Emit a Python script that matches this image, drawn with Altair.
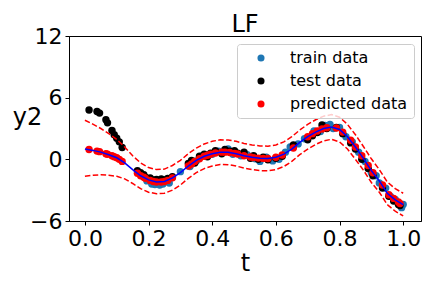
import altair as alt
import pandas as pd

# ---- data ----
curve_t = [0.0, 0.025, 0.05, 0.075, 0.1, 0.125, 0.15, 0.175, 0.2, 0.225, 0.25, 0.275, 0.3, 0.325,
           0.35, 0.375, 0.4, 0.425, 0.45, 0.475, 0.5, 0.525, 0.55, 0.575, 0.6, 0.625, 0.65, 0.675,
           0.7, 0.725, 0.75, 0.775, 0.8, 0.825, 0.85, 0.875, 0.9, 0.925, 0.95, 0.975, 1.0]
curve_y = [1.0, 0.87, 0.7, 0.45, 0.15, -0.35, -1.0, -1.6, -2.0, -2.2, -2.15, -1.8, -1.3, -0.65,
           -0.1, 0.3, 0.55, 0.7, 0.68, 0.55, 0.35, 0.2, 0.1, 0.08, 0.2, 0.5, 1.0, 1.65,
           2.2, 2.65, 3.0, 3.15, 2.9, 2.2, 1.2, 0.1, -1.1, -2.1, -3.3, -3.95, -4.4]
upper_y = [3.8, 3.42, 3.0, 2.5, 1.95, 1.2, 0.35, -0.35, -0.8, -1.0, -0.95, -0.6, -0.1, 0.55,
           1.1, 1.5, 1.75, 1.9, 1.88, 1.75, 1.55, 1.4, 1.3, 1.28, 1.4, 1.7, 2.2, 2.85,
           3.4, 3.85, 4.2, 4.35, 4.1, 3.4, 2.4, 1.25, 0.05, -1.0, -2.2, -2.85, -3.3]
lower_y = [-1.65, -1.55, -1.5, -1.55, -1.65, -1.9, -2.35, -2.85, -3.2, -3.35, -3.3, -3.0, -2.5, -1.85,
           -1.3, -0.9, -0.65, -0.5, -0.52, -0.65, -0.85, -1.0, -1.1, -1.12, -1.0, -0.7, -0.2, 0.45,
           1.0, 1.45, 1.8, 1.95, 1.7, 1.0, 0.0, -1.05, -2.25, -3.2, -4.4, -5.05, -5.5]

train_t = [0.195, 0.21, 0.22, 0.235, 0.245, 0.265, 0.3, 0.33, 0.35, 0.37, 0.4, 0.42, 0.45, 0.465,
           0.49, 0.51, 0.535, 0.55, 0.57, 0.59, 0.61, 0.63, 0.645, 0.67, 0.69, 0.72, 0.74, 0.755,
           0.77, 0.78, 0.8, 0.82, 0.84, 0.86, 0.88, 0.9, 0.915, 0.925, 0.945, 0.96, 0.975, 0.995, 1.0]
train_y = [-2.1, -2.4, -2.45, -2.5, -2.4, -2.3, -1.2, -0.7, -0.15, 0.35, 0.5, 0.8, 1.0, 0.5,
           0.35, 0.45, 0.05, -0.2, 0.2, -0.15, 0.0, 0.7, 1.2, 1.5, 2.0, 2.75, 2.7, 3.3,
           3.4, 3.0, 3.1, 2.2, 1.7, 0.7, -0.2, -1.3, -1.6, -2.3, -2.8, -3.6, -3.9, -4.7, -4.4]

test_t = [0.013, 0.038, 0.046, 0.066, 0.071, 0.085, 0.092, 0.1, 0.108, 0.117,
          0.165, 0.175, 0.185, 0.19, 0.205, 0.215, 0.225, 0.24, 0.25, 0.26, 0.275, 0.325, 0.335,
          0.345, 0.36, 0.375, 0.385, 0.395, 0.41, 0.43, 0.44, 0.455, 0.47, 0.48, 0.5, 0.52, 0.53,
          0.545, 0.56, 0.575, 0.6, 0.62, 0.655, 0.7, 0.715, 0.73, 0.745, 0.76, 0.79, 0.81, 0.835,
          0.85, 0.87, 0.89, 0.905, 0.935, 0.955, 0.97, 0.985, 0.99]
test_y = [4.8, 4.65, 4.5, 3.85, 3.55, 2.8, 2.4, 2.05, 1.7, 1.15,
          -1.1, -1.3, -1.5, -1.75, -1.8, -2.0, -1.95, -1.9, -2.0, -1.85, -1.7, -0.4, -0.1,
          -0.35, 0.3, 0.5, 0.25, 0.6, 0.85, 0.55, 0.95, 0.8, 0.85, 0.6, 0.7, 0.1, 0.35,
          0.0, 0.2, -0.05, 0.1, 0.3, 1.4, 1.9, 2.3, 2.6, 3.35, 3.0, 3.1, 2.5, 1.6,
          1.0, 0.0, -0.9, -1.6, -2.8, -3.6, -4.05, -4.4, -4.5]
pred_y = [0.95, 0.8, 0.75, 0.55, 0.5, 0.35, 0.25, 0.15, 0.0, -0.2,
          -1.35, -1.6, -1.75, -1.85, -2.05, -2.15, -2.2, -2.2, -2.15, -2.05, -1.8, -0.65, -0.45,
          -0.2, 0.05, 0.3, 0.4, 0.5, 0.62, 0.7, 0.7, 0.67, 0.58, 0.52, 0.35, 0.22, 0.17,
          0.12, 0.09, 0.08, 0.2, 0.42, 1.1, 2.2, 2.5, 2.75, 2.95, 3.08, 3.05, 2.65, 1.85,
          1.2, 0.35, -0.6, -1.3, -2.5, -3.45, -3.8, -4.15, -4.3]

kinds = ["train data", "test data", "predicted data"]
colors = ["#1f77b4", "#000000", "#ff0000"]

pts = pd.concat([
    pd.DataFrame({"t": train_t, "y": train_y, "kind": kinds[0]}),
    pd.DataFrame({"t": test_t, "y": test_y, "kind": kinds[1]}),
    pd.DataFrame({"t": test_t, "y": pred_y, "kind": kinds[2]}),
], ignore_index=True)
pts["ord"] = range(len(pts))

curve = pd.DataFrame({"t": curve_t, "y": curve_y})
bands = pd.concat([
    pd.DataFrame({"t": curve_t, "y": upper_y, "band": "upper"}),
    pd.DataFrame({"t": curve_t, "y": lower_y, "band": "lower"}),
], ignore_index=True)

xs = alt.Scale(domain=[-0.05, 1.056], nice=False, zero=False)
ys = alt.Scale(domain=[-6, 12], nice=False, zero=False)

xax = alt.Axis(values=[0, 0.2, 0.4, 0.6, 0.8, 1.0], format=".1f", title="t", grid=False,
               titleFontSize=24, titlePadding=2)
yax = alt.Axis(values=[-6, 0, 6, 12], format="d", title="y2", grid=False,
               titleAngle=0, titleFontSize=24, titleAlign="center", titleBaseline="middle",
               titleX=-42, titleY=81)

points = alt.Chart(pts).mark_circle(size=55, opacity=1).encode(
    x=alt.X("t:Q", scale=xs, axis=xax),
    y=alt.Y("y:Q", scale=ys, axis=yax),
    color=alt.Color("kind:N", scale=alt.Scale(domain=kinds, range=colors),
                    legend=alt.Legend(title=None, orient="none", legendX=168, legendY=8,
                                      labelFontSize=16, symbolSize=50, symbolType="circle",
                                      symbolOffset=10, labelOffset=21, rowPadding=7,
                                      padding=6, fillColor="rgba(255,255,255,0.8)",
                                      strokeColor="#cccccc", cornerRadius=3)),
    order=alt.Order("ord:Q"),
)

bline = alt.Chart(curve).mark_line(color="blue", strokeWidth=1.5).encode(
    x=alt.X("t:Q", scale=xs), y=alt.Y("y:Q", scale=ys))

dlines = alt.Chart(bands).mark_line(color="red", strokeWidth=1.5, strokeDash=[5.5, 2.4]).encode(
    x=alt.X("t:Q", scale=xs), y=alt.Y("y:Q", scale=ys), detail="band:N")

chart = alt.layer(points, bline, dlines).properties(
    width=352, height=185,
    title=alt.TitleParams("LF", fontSize=24, fontWeight="normal", font="DejaVu Sans",
                          offset=6, dy=18, color="black", frame="group", anchor="middle"),
    autosize=alt.AutoSizeParams(type="none"),
    padding={"left": 61, "top": 28, "right": 3, "bottom": 59},
).configure(font="DejaVu Sans").configure_view(
    stroke="black", strokeWidth=1
).configure_axis(
    labelFont="DejaVu Sans", titleFont="DejaVu Sans", labelFontSize=22,
    labelColor="black", titleColor="black", domainColor="black", tickColor="black",
    tickSize=4, labelPadding=3, titleFontWeight="normal", domainWidth=1
).configure_legend(labelFont="DejaVu Sans", labelColor="black")

chart.save("out.html", embed_options={"renderer": "svg", "actions": False})
